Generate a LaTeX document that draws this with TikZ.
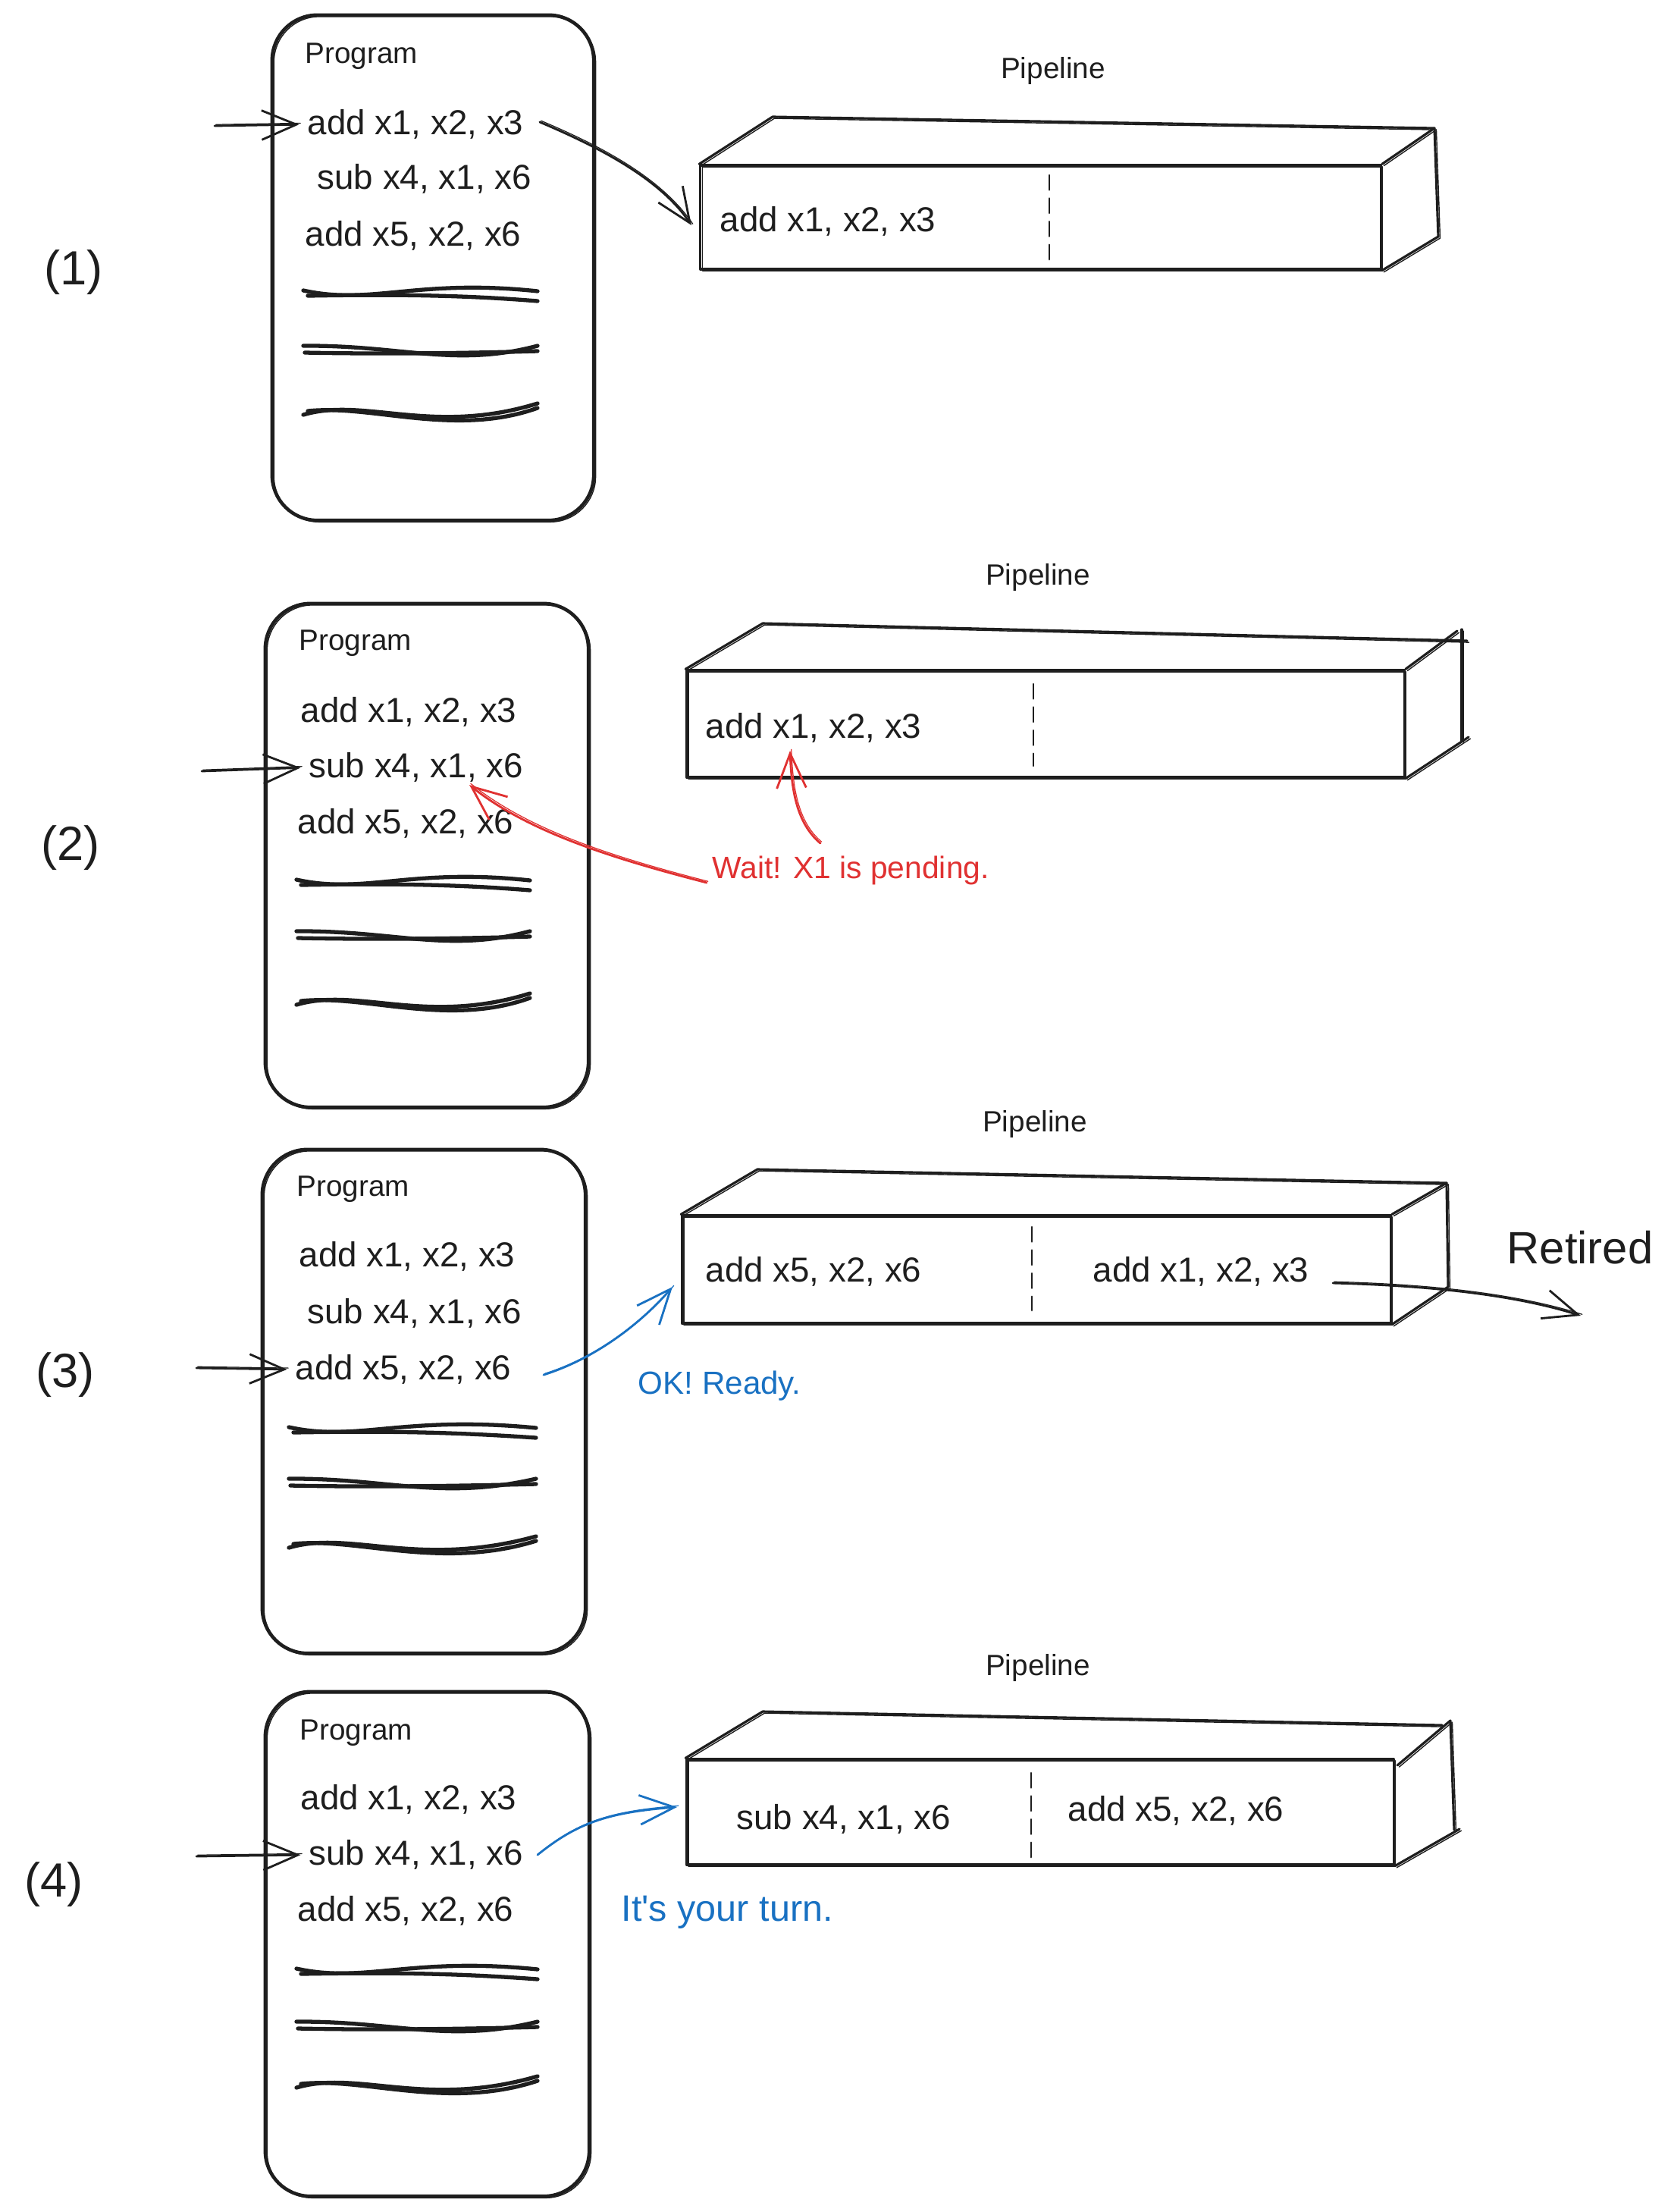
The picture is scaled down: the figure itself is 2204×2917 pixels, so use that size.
\documentclass[tikz,border=0pt]{standalone}
\usepackage{fontspec}
\setmainfont{Liberation Sans}
\newfontfamily\plainsans{Liberation Sans}
\usetikzlibrary{arrows.meta}
\definecolor{ink}{HTML}{1E1E1E}
\definecolor{wred}{HTML}{E03131}
\definecolor{wblue}{HTML}{1971C2}

% scribbled placeholder lines: x0, x1, y
\newcommand{\scribOne}[3]{%
  \draw[scribble] (#1,#3-4) .. controls (#1+90,#3+16) and (#1+150,#3-20) .. (#2,#3-3);
  \draw[scribble] (#1+6,#3+3) .. controls (#1+120,#3+1) and (#1+210,#3+2) .. (#2,#3+10);}
\newcommand{\scribTwo}[3]{%
  \draw[scribble] (#1,#3-7) .. controls (#1+130,#3-8) and (#1+200,#3+22) .. (#2,#3-7);
  \draw[scribble] (#1+2,#3+2) .. controls (#1+100,#3+4) and (#1+210,#3+3) .. (#2,#3);}
\newcommand{\scribThree}[3]{%
  \draw[scribble] (#1,#3+4) .. controls (#1+80,#3-20) and (#1+170,#3+32) .. (#2,#3-11);
  \draw[scribble] (#1+6,#3-1) .. controls (#1+90,#3-10) and (#1+200,#3+34) .. (#2,#3-5);}

\begin{document}
\begin{tikzpicture}[x=0.01cm,y=-0.01cm,line cap=round,line join=round,
  sketch/.style={postaction={draw,line width=0.4pt,transform canvas={xshift=0.7pt,yshift=-0.6pt}}},
  progbox/.style={draw=ink,line width=1.3pt,rounded corners=17pt,sketch},
  pipe/.style={draw=ink,line width=0.9pt,sketch},
  scribble/.style={draw=ink,line width=1.5pt},
  divider/.style={draw=ink,line width=0.8pt,dash pattern=on 5.5pt off 3.2pt},
  code/.style={font=\fontsize{13}{15}\selectfont,inner sep=0pt,anchor=west,text=ink},
  title/.style={font=\fontsize{11}{13}\selectfont,inner sep=0pt,text=ink},
  stepnum/.style={font=\fontsize{18}{22}\selectfont,inner sep=0pt,text=ink},
  note/.style={inner sep=0pt,anchor=west},
  barb/.style={-{Straight Barb[length=13pt,width=11pt]},line width=0.8pt,
    postaction={draw,line width=0.35pt,-,transform canvas={xshift=0.5pt,yshift=0.5pt}}},
  ptr/.style={barb,draw=ink,shorten >=3pt}]

\path[use as bounding box] (0,0) rectangle (2204,2917);

% ===================== (1) =====================
\node[stepnum] (n1) at (97,359) {(1)};
\node[progbox,minimum width=4.24cm,minimum height=6.66cm] (P1) at (571,353) {};
\node[code,font=\fontsize{11}{13}\selectfont] (g1) at (402,74) {Program};
\node[code] (a11) at (405,164) {add x1, x2, x3};
\node[code] (a12) at (418,236) {sub x4, x1, x6};
\node[code] (a13) at (402,311) {add x5, x2, x6};
\scribOne{400}{709}{387}
\scribTwo{400}{709}{463}
\scribThree{400}{709}{543}
\coordinate (f1) at (283,166);
\draw[ptr] (f1) -- (a11.west);

\node[title] (L1) at (1389,93) {Pipeline};
\node[pipe,minimum width=8.97cm,minimum height=1.37cm] (Q1) at (1372.5,286.5) {};
\draw[pipe] (Q1.north west) -- (1019,154) -- (1892,169) -- (Q1.north east);
\draw[pipe] (1892,169) -- (1897,312) -- (Q1.south east);
\draw[divider] (1384,231) -- (1384,344);
\node[code] (q11) at (949,292) {add x1, x2, x3};
\coordinate (s1) at (712,161);
\coordinate (t1) at (912,297);
\draw[barb,draw=ink] (s1) .. controls (780,190) and (868,232) .. (t1);

% ===================== (2) =====================
\node[stepnum] (n2) at (93,1118) {(2)};
\node[progbox,minimum width=4.26cm,minimum height=6.64cm] (P2) at (563,1128) {};
\node[code,font=\fontsize{11}{13}\selectfont] (g2) at (394,848) {Program};
\node[code] (a21) at (396,939) {add x1, x2, x3};
\node[code] (a22) at (407,1012) {sub x4, x1, x6};
\node[code] (a23) at (392,1086) {add x5, x2, x6};
\scribOne{391}{699}{1164}
\scribTwo{391}{699}{1235}
\scribThree{391}{699}{1321}
\coordinate (f2) at (266,1017);
\draw[ptr] (f2) -- (a22.west);

\node[title] (L2) at (1369,761) {Pipeline};
\node[pipe,minimum width=9.46cm,minimum height=1.41cm] (Q2) at (1379,954.5) {};
\draw[pipe] (Q2.north west) -- (1006,822) -- (1935,845);
\draw[pipe] (Q2.north east) -- (1922,832);
\draw[pipe] (1928,830) -- (1928,977);
\draw[pipe] (Q2.south east) -- (1937,972);
\draw[divider] (1363,902) -- (1363,1010);
\node[code] (q21) at (930,960) {add x1, x2, x3};
\node[note,text=wred,font=\fontsize{11.6}{14}\selectfont] (w2) at (939,1148) {Wait! X1 is pending.};
\coordinate (r1s) at (932,1164);
\coordinate (r1e) at (619,1035);
\draw[barb,draw=wred] (r1s) .. controls (820,1135) and (700,1100) .. (r1e);
\coordinate (r2s) at (1082,1112);
\coordinate (r2e) at (1042,990);
\draw[barb,draw=wred] (r2s) .. controls (1050,1085) and (1044,1040) .. (r2e);

% ===================== (3) =====================
\node[stepnum] (n3) at (86,1813) {(3)};
\node[progbox,minimum width=4.26cm,minimum height=6.64cm] (P3) at (559,1848) {};
\node[code,font=\fontsize{11}{13}\selectfont] (g3) at (391,1568) {Program};
\node[code] (a31) at (394,1657) {add x1, x2, x3};
\node[code] (a32) at (405,1732) {sub x4, x1, x6};
\node[code] (a33) at (389,1806) {add x5, x2, x6};
\scribOne{381}{707}{1886}
\scribTwo{381}{707}{1957}
\scribThree{381}{707}{2037}
\coordinate (f3) at (259,1804);
\draw[ptr] (f3) -- (a33.west);

\node[title] (L3) at (1365,1482) {Pipeline};
\node[pipe,minimum width=9.34cm,minimum height=1.42cm] (Q3) at (1367,1674) {};
\draw[pipe] (Q3.north west) -- (999,1542) -- (1908,1560) -- (Q3.north east);
\draw[pipe] (1908,1560) -- (1910,1697) -- (Q3.south east);
\draw[divider] (1361,1618) -- (1361,1728);
\node[code] (q31) at (930,1677) {add x5, x2, x6};
\node[code] (q32) at (1441,1677) {add x1, x2, x3};
\node[stepnum,font=\fontsize{17}{20}\selectfont] (ret) at (2084,1645) {Retired};
\coordinate (rs) at (1758,1692);
\coordinate (re) at (2085,1735);
\draw[barb,draw=ink] (rs) .. controls (1870,1695) and (1990,1705) .. (re);
\coordinate (b3s) at (717,1813);
\coordinate (b3e) at (887,1697);
\draw[barb,draw=wblue] (b3s) .. controls (790,1790) and (850,1740) .. (b3e);
\node[note,text=wblue,font=\fontsize{12}{14}\selectfont] (ok) at (841,1828) {OK! Ready.};

% ===================== (4) =====================
\node[stepnum] (n4) at (71,2485) {(4)};
\node[progbox,minimum width=4.27cm,minimum height=6.65cm] (P4) at (563.5,2563.5) {};
\node[code,font=\fontsize{11}{13}\selectfont] (g4) at (395,2285) {Program};
\node[code] (a41) at (396,2373) {add x1, x2, x3};
\node[code] (a42) at (407,2446) {sub x4, x1, x6};
\node[code] (a43) at (392,2520) {add x5, x2, x6};
\scribOne{391}{709}{2600}
\scribTwo{391}{709}{2673}
\scribThree{391}{709}{2749}
\coordinate (f4) at (259,2448);
\draw[ptr] (f4) -- (a42.west);

\node[title] (L4) at (1369,2199) {Pipeline};
\node[pipe,minimum width=9.32cm,minimum height=1.39cm] (Q4) at (1372,2389.5) {};
\draw[pipe] (Q4.north west) -- (1006,2257) -- (1902,2275);
\draw[pipe] (1843,2328) -- (1913,2269) -- (1918,2413);
\draw[pipe] (Q4.south east) -- (1925,2412);
\draw[divider] (1360,2338) -- (1360,2450);
\node[code] (q41) at (971,2399) {sub x4, x1, x6};
\node[code] (q42) at (1408,2388) {add x5, x2, x6};
\coordinate (b4s) at (709,2446);
\coordinate (b4e) at (893,2383);
\draw[barb,draw=wblue] (b4s) .. controls (760,2405) and (800,2390) .. (b4e);
\node[note,text=wblue,font=\plainsans\fontsize{13.8}{16}\selectfont] (turn) at (819,2522) {It's your turn.};

\end{tikzpicture}
\end{document}
